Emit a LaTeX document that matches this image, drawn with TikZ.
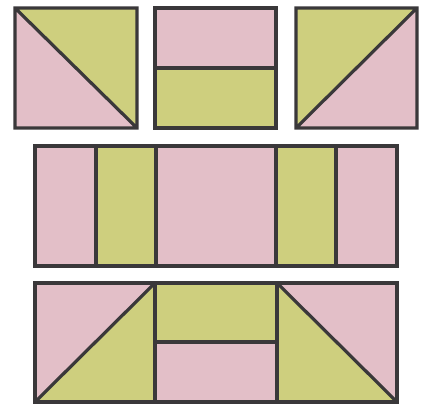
\documentclass[tikz,border=0pt]{standalone}
\usetikzlibrary{positioning}
\definecolor{quiltpink}{RGB}{227,191,200}
\definecolor{quiltgreen}{RGB}{206,207,126}
\definecolor{seamgray}{RGB}{58,56,58}
\begin{document}
\begin{tikzpicture}[x=1pt, y=-1pt,
    pinkpatch/.style={fill=quiltpink},
    greenpatch/.style={fill=quiltgreen},
    seam/.style={draw=seamgray, line width=3.2pt, line join=miter}]
    \useasboundingbox (0,0) rectangle (426,404);

    % top row: three blocks
    \fill[greenpatch] (15,8) -- (137,8) -- (137,128) -- cycle;
    \fill[pinkpatch] (15,8) -- (137,128) -- (15,128) -- cycle;
    \draw[seam] (15,8) rectangle (137,128) (15,8) -- (137,128);

    \fill[pinkpatch] (155,8) rectangle (276,68);
    \fill[greenpatch] (155,68) rectangle (276,128);
    \draw[seam] (155,8) rectangle (276,128) (155,68) -- (276,68);

    \fill[greenpatch] (296,8) -- (417,8) -- (296,128) -- cycle;
    \fill[pinkpatch] (417,8) -- (417,128) -- (296,128) -- cycle;
    \draw[seam] (296,8) rectangle (417,128) (417,8) -- (296,128);

    % middle row: strips
    \fill[pinkpatch] (35,146) rectangle (96,266);
    \fill[greenpatch] (96,146) rectangle (156,266);
    \fill[pinkpatch] (156,146) rectangle (276,266);
    \fill[greenpatch] (276,146) rectangle (336,266);
    \fill[pinkpatch] (336,146) rectangle (397,266);
    \draw[seam] (35,146) rectangle (397,266);
    \foreach \xs in {96,156,276,336}
        \draw[seam] (\xs,146) -- (\xs,266);

    % bottom row
    \fill[pinkpatch] (35,283) -- (155,283) -- (35,402) -- cycle;
    \fill[greenpatch] (155,283) -- (155,402) -- (35,402) -- cycle;
    \fill[greenpatch] (155,283) rectangle (277,342);
    \fill[pinkpatch] (155,342) rectangle (277,402);
    \fill[greenpatch] (277,283) -- (397,402) -- (277,402) -- cycle;
    \fill[pinkpatch] (277,283) -- (397,283) -- (397,402) -- cycle;
    \draw[seam] (35,283) rectangle (397,402);
    \draw[seam] (155,283) -- (155,402) (277,283) -- (277,402);
    \draw[seam] (155,342) -- (277,342);
    \draw[seam] (155,283) -- (35,402) (277,283) -- (397,402);
\end{tikzpicture}
\end{document}
